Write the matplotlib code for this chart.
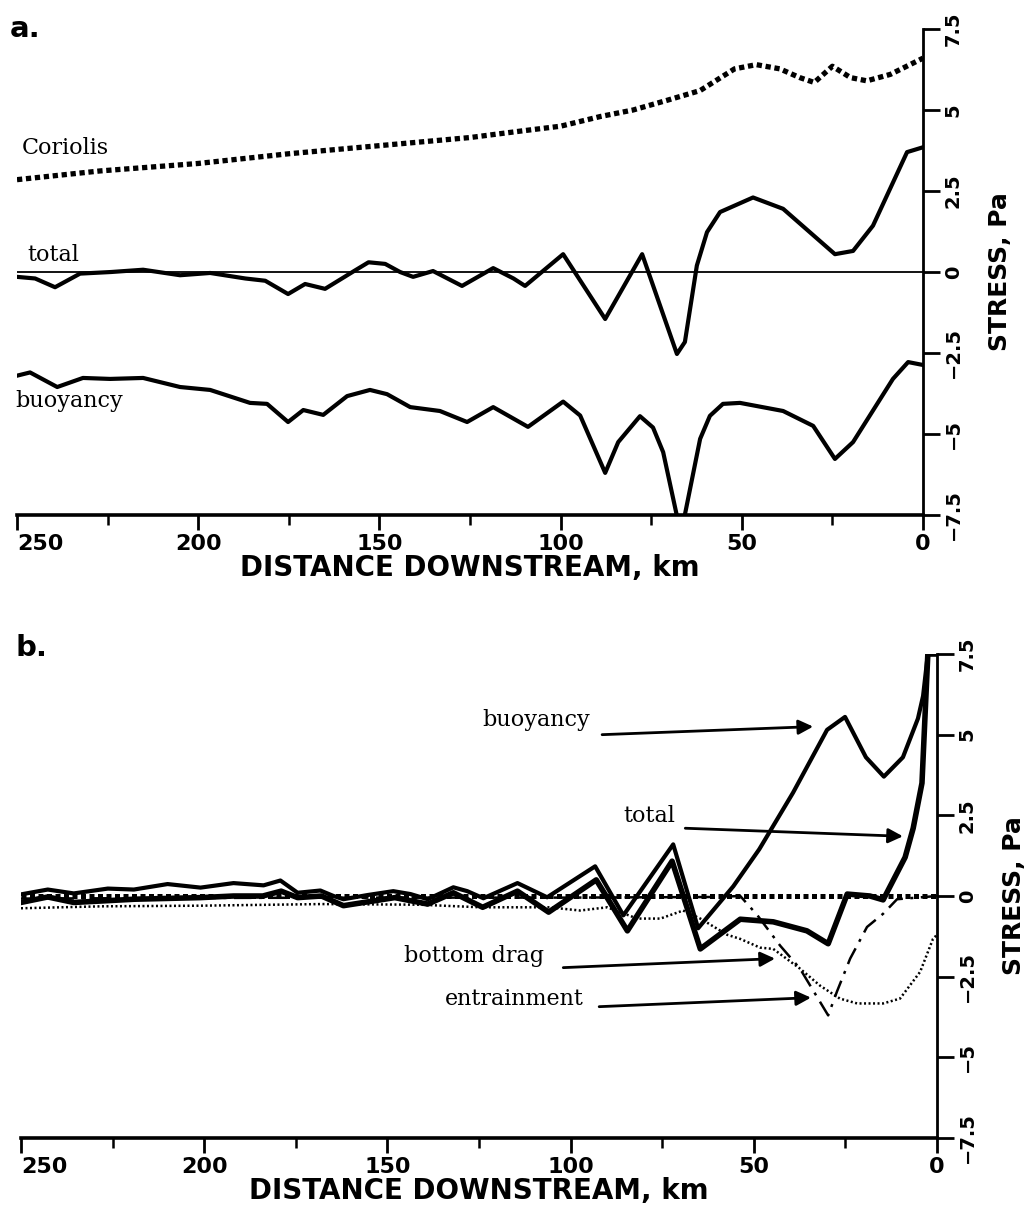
import matplotlib
matplotlib.use("Agg")
import matplotlib.pyplot as plt
from matplotlib.ticker import FixedLocator

# %%
# panel a : momentum balance terms (km downstream, Pa)
cor_km = [250, 227, 200, 175, 150, 125, 111, 100, 89, 80, 70.6, 61.5, 52, 46, 39.5, 34, 30, 25, 20, 15.5, 9, 0]
cor_pa = [2.85, 3.12, 3.35, 3.65, 3.9, 4.15, 4.35, 4.5, 4.8, 5.0, 5.3, 5.6, 6.27, 6.4, 6.27, 6.0, 5.85, 6.35, 6.0, 5.9, 6.1, 6.6]

tot_a_km = [250, 245, 239.5, 232.6, 224, 215.2, 205, 196.7, 187, 181.5, 175.2, 170.5, 165, 156.7, 153, 148.4,
            144.3, 140.7, 135.2, 127.2, 118.6, 113, 109.8, 99.3, 87.7, 77.5, 67.9, 65.7, 62.4, 59.6, 56,
            46.9, 38.6, 24.3, 19.3, 13.8, 4.4, 0]
tot_a_pa = [-0.15, -0.2, -0.47, -0.05, 0.0, 0.07, -0.1, -0.03, -0.2, -0.27, -0.68, -0.37, -0.52, 0.05, 0.3, 0.25,
            0.0, -0.15, 0.03, -0.43, 0.12, -0.2, -0.43, 0.55, -1.45, 0.55, -2.53, -2.16, 0.2, 1.23, 1.85,
            2.3, 1.95, 0.55, 0.65, 1.43, 3.7, 3.85]

buo_a_km = [250, 246.4, 238.9, 231.8, 224.3, 215.2, 205, 196.7, 185.7, 181, 175.2, 171, 165.5, 158.9, 152.6,
            147.9, 141.5, 133.3, 125.8, 118.6, 109, 99.3, 94.6, 87.7, 84.1, 78.1, 74.5, 71.7, 66.8, 61.5,
            58.8, 55.2, 50.5, 38.6, 30.3, 24.3, 19.3, 8.3, 4.1, 0]
buo_a_pa = [-3.2, -3.1, -3.55, -3.27, -3.3, -3.27, -3.55, -3.64, -4.04, -4.07, -4.63, -4.26, -4.41, -3.83, -3.64,
            -3.77, -4.17, -4.29, -4.63, -4.17, -4.78, -4.0, -4.43, -6.2, -5.25, -4.45, -4.8, -5.56, -8.1, -5.15,
            -4.44, -4.07, -4.04, -4.29, -4.75, -5.77, -5.25, -3.3, -2.78, -2.87]

# panel b
buo_b_km = [250, 242.7, 235.6, 226.3, 219.2, 210, 201, 192, 183.8, 179.2, 174.5, 168.3, 164.7, 162, 155.4,
            148.4, 143.7, 139, 132, 128.2, 123.8, 114.5, 106.4, 93.3, 85.6, 72, 65.2, 55.6, 48.5, 39.3, 30,
            25.1, 19.4, 14.5, 9.3, 5.2, 3.8, 2.5, 0]
buo_b_pa = [0.05, 0.2, 0.08, 0.23, 0.2, 0.37, 0.26, 0.4, 0.33, 0.48, 0.1, 0.17, 0.0, -0.1, 0.03,
            0.15, 0.06, -0.1, 0.27, 0.15, -0.07, 0.4, -0.04, 0.92, -0.6, 1.6, -1.0, 0.3, 1.45, 3.2, 5.15,
            5.55, 4.3, 3.7, 4.3, 5.5, 6.2, 7.5, 7.5]

tot_b_km = [250, 242.7, 235.6, 219, 201, 192, 184, 179, 174.5, 168, 162, 148, 139, 132, 124, 114.5, 106,
            93, 84.5, 72.3, 64.6, 53.7, 44.7, 35.5, 29.7, 24.5, 18.3, 14.7, 8.7, 6.5, 4.1, 2.5, 0]
tot_b_pa = [-0.2, -0.03, -0.2, -0.1, -0.05, 0.0, 0.0, 0.15, -0.05, 0.0, -0.3, -0.05, -0.25, 0.1, -0.35, 0.15, -0.5,
            0.5, -1.08, 1.08, -1.64, -0.72, -0.8, -1.08, -1.48, 0.06, 0.0, -0.12, 1.2, 2.1, 3.5, 7.5, 7.5]

drag_km = [250, 228, 201, 168, 141, 124.6, 106, 97.4, 90, 81.8, 75.5, 69.3, 64.6, 57.3, 53.7, 48.3, 44.7,
           37.4, 31.9, 26.5, 21.8, 14.7, 10.1, 4.6, 1.1, 0]
drag_pa = [-0.38, -0.32, -0.3, -0.25, -0.27, -0.35, -0.35, -0.45, -0.35, -0.7, -0.7, -0.45, -0.7, -1.2, -1.33, -1.6, -1.64,
           -2.25, -2.78, -3.18, -3.33, -3.33, -3.18, -2.35, -1.33, -1.2]

ent_km = [250, 200, 150, 100, 60, 53.7, 49, 42.8, 37.4, 29.7, 27.3, 23.7, 19.1, 14.7, 10.9, 0]
ent_pa = [-0.08, -0.06, -0.05, -0.05, -0.03, 0.0, -0.6, -1.54, -2.25, -3.7, -2.96, -1.94, -0.96, -0.55, -0.1, 0.0]

ytick_vals = [-7.5, -5, -2.5, 0, 2.5, 5, 7.5]
ytick_labels = ['\u22127.5', '\u22125', '\u22122.5', '0', '2.5', '5', '7.5']
xtick_vals = [250, 200, 150, 100, 50, 0]

# %%
sans = ['DejaVu Sans']
serif = ['DejaVu Serif']


def setup_axes(ax):
    ax.set_xlim(250, 0)
    ax.set_ylim(-7.5, 7.5)
    ax.spines['top'].set_visible(False)
    ax.spines['left'].set_visible(False)
    ax.spines['bottom'].set_linewidth(2.6)
    ax.spines['right'].set_linewidth(2.0)
    ax.yaxis.tick_right()
    ax.set_xticks(xtick_vals)
    ax.set_xticklabels([str(v) for v in xtick_vals], family=sans, fontsize=16, fontweight='bold')
    # first label sits right of its tick like in the print
    ax.get_xticklabels()[0].set_horizontalalignment('left')
    ax.xaxis.set_minor_locator(FixedLocator([225, 175, 125, 75, 25]))
    ax.tick_params(axis='x', which='major', length=11, width=2, pad=3)
    ax.tick_params(axis='x', which='minor', length=7, width=1.8)
    ax.set_yticks(ytick_vals)
    ax.set_yticklabels(ytick_labels, family=sans, fontsize=14, fontweight='bold', rotation=90, va='center')
    ax.tick_params(axis='y', length=12, width=2, pad=3)
    ax.set_xlabel('DISTANCE DOWNSTREAM, km', family=sans, fontsize=20, fontweight='bold', labelpad=0)
    ax.set_ylabel('STRESS, Pa', family=sans, fontsize=18, fontweight='bold', rotation=90, labelpad=18)
    ax.yaxis.set_label_position('right')


fig = plt.figure(figsize=(10.34, 12.18), dpi=100)
ax1 = fig.add_axes([17 / 1034, 1 - 515 / 1218, 906 / 1034, 486 / 1218])
ax2 = fig.add_axes([21 / 1034, 1 - 1138 / 1218, 916 / 1034, 484 / 1218])

# %%
# panel a
ax1.axhline(0, color='black', lw=1.3)
ax1.plot(cor_km, cor_pa, color='black', lw=3.8, dashes=(1.0, 0.7), dash_capstyle='butt')
ax1.plot(tot_a_km, tot_a_pa, color='black', lw=3.0, solid_joinstyle='round')
ax1.plot(buo_a_km, buo_a_pa, color='black', lw=3.0, solid_joinstyle='round')
setup_axes(ax1)

ax1.text(248.6, 3.83, 'Coriolis', family=serif, fontsize=16, ha='left', va='center')
ax1.text(247, 0.52, 'total', family=serif, fontsize=16, ha='left', va='center')
ax1.text(250.5, -3.98, 'buoyancy', family=serif, fontsize=16, ha='left', va='center')
fig.text(10 / 1034, 1 - 29 / 1218, 'a.', family=sans, fontsize=21, fontweight='bold', ha='left', va='center')

# %%
# panel b
ax2.plot([250, 0], [0, 0], color='black', lw=3.6, dashes=(1.0, 0.7), dash_capstyle='butt')
ax2.plot(drag_km, drag_pa, color='black', lw=1.8, dashes=(0.8, 1.0), dash_capstyle='butt')
ax2.plot(ent_km, ent_pa, color='black', lw=1.8, dashes=(7, 3, 1.2, 3))
ax2.plot(buo_b_km, buo_b_pa, color='black', lw=3.0, solid_joinstyle='round')
ax2.plot(tot_b_km, tot_b_pa, color='black', lw=4.0, solid_joinstyle='round')
setup_axes(ax2)

arrow = dict(arrowstyle='-|>', color='black', lw=2.0, mutation_scale=22, shrinkA=0, shrinkB=0)
ax2.annotate('', xy=(33.8, 5.25), xytext=(91.4, 5.0), arrowprops=arrow)
ax2.annotate('', xy=(9.3, 1.85), xytext=(68.7, 2.1), arrowprops=arrow)
ax2.annotate('', xy=(44.2, -1.94), xytext=(102, -2.22), arrowprops=arrow)
ax2.annotate('', xy=(34.4, -3.15), xytext=(92.2, -3.43), arrowprops=arrow)
ax2.text(124, 5.46, 'buoyancy', family=serif, fontsize=16, ha='left', va='center')
ax2.text(85.6, 2.47, 'total', family=serif, fontsize=16, ha='left', va='center')
ax2.text(145.4, -1.85, 'bottom drag', family=serif, fontsize=16, ha='left', va='center')
ax2.text(134.4, -3.18, 'entrainment', family=serif, fontsize=16, ha='left', va='center')
fig.text(16 / 1034, 1 - 648 / 1218, 'b.', family=sans, fontsize=21, fontweight='bold', ha='left', va='center')

plt.savefig('out.png', dpi=100)
